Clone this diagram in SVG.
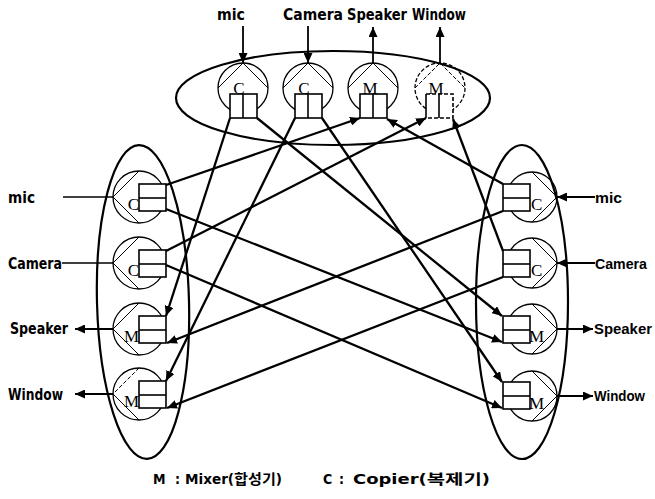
<svg xmlns="http://www.w3.org/2000/svg" width="655" height="499" viewBox="0 0 655 499">
<style>
.bg{fill:#fff}
.site{fill:none;stroke:#000;stroke-width:2.2}
.circ{fill:none;stroke:#000;stroke-width:1.3}
.chord{fill:none;stroke:#000;stroke-width:1}
.box{fill:#fff;stroke:#000;stroke-width:1.6}
.dash{stroke-dasharray:4 2}
.conn{fill:none;stroke:#000;stroke-width:2.3;marker-end:url(#ah)}
.term{fill:none;stroke:#000;stroke-width:1.4}
.terma{fill:none;stroke:#000;stroke-width:1.8;marker-end:url(#ah)}
.lbl{font-family:"DejaVu Sans Condensed","DejaVu Sans","Liberation Sans",sans-serif;font-weight:bold;font-size:16px;fill:#000}
.lblr{font-family:"Liberation Sans",Arial,sans-serif;font-weight:bold;font-size:15px;fill:#000}
.let{font-family:"Liberation Serif",serif;font-size:17px;fill:#000}
.leg{font-family:"DejaVu Sans Condensed","DejaVu Sans","Noto Sans CJK KR",sans-serif;font-weight:bold;font-size:14px;fill:#000}
</style>
<defs>
<marker id="ah" markerUnits="userSpaceOnUse" markerWidth="11" markerHeight="9" refX="10" refY="4.5" orient="auto">
<path d="M0,0 L10,4.5 L0,9 z" fill="#000"/>
</marker>
</defs>
<rect class="bg" x="0" y="0" width="655" height="499"/>

<g id="sites">
<ellipse class="site" cx="333" cy="98" rx="157" ry="47"/>
<ellipse class="site" cx="143" cy="302" rx="46" ry="157" transform="rotate(-1.5 143 302)"/>
<ellipse class="site" cx="522" cy="302" rx="46" ry="157"/>
</g>

<g id="top-mic-copier">
<circle class="circ" cx="243" cy="88" r="25"/>
<path class="chord" d="M218,88 L243,63 L268,88"/>
<text class="let" x="239" y="94" text-anchor="middle">C</text>
<rect class="box" x="230" y="94" width="27" height="24"/>
<line class="chord" x1="243" y1="94" x2="243" y2="118" style="stroke-width:1.6"/>
</g>
<g id="top-camera-copier">
<circle class="circ" cx="308" cy="88" r="25"/>
<path class="chord" d="M283,88 L308,63 L333,88"/>
<text class="let" x="304" y="94" text-anchor="middle">C</text>
<rect class="box" x="295" y="94" width="27" height="24"/>
<line class="chord" x1="308" y1="94" x2="308" y2="118" style="stroke-width:1.6"/>
</g>
<g id="top-speaker-mixer">
<circle class="circ" cx="373" cy="88" r="25"/>
<path class="chord" d="M348,88 L373,63 L398,88"/>
<text class="let" x="370" y="94" text-anchor="middle">M</text>
<rect class="box" x="360" y="94" width="27" height="24"/>
<line class="chord" x1="373" y1="94" x2="373" y2="118" style="stroke-width:1.6"/>
</g>
<g id="top-window-mixer">
<circle class="circ dash" cx="440" cy="88" r="25"/>
<path class="chord dash" d="M415,88 L440,63 L465,88"/>
<text class="let" x="436" y="94" text-anchor="middle">M</text>
<rect x="426" y="94" width="27" height="24" fill="#fff"/>
<path class="box" d="M426,94 L426,118" style="fill:none"/>
<path class="box dash" d="M426,94 L453,94 L453,118 L426,118" style="fill:none"/>
<line class="chord" x1="439" y1="94" x2="439" y2="118" style="stroke-width:1.6"/>
</g>

<g id="left-mic-copier">
<circle class="circ" cx="139" cy="197" r="26"/>
<path class="chord" d="M139,171 L113,197 L139,223"/>
<text class="let" x="139" y="210" text-anchor="end">C</text>
<rect class="box" x="139" y="184" width="27" height="27"/>
<line class="chord" x1="139" y1="198" x2="166" y2="198" style="stroke-width:1.6"/>
</g>
<g id="left-camera-copier">
<circle class="circ" cx="139" cy="263" r="26"/>
<path class="chord" d="M139,237 L113,263 L139,289"/>
<text class="let" x="139" y="276" text-anchor="end">C</text>
<rect class="box" x="139" y="250" width="27" height="27"/>
<line class="chord" x1="139" y1="264" x2="166" y2="264" style="stroke-width:1.6"/>
</g>
<g id="left-speaker-mixer">
<circle class="circ" cx="139" cy="329" r="26"/>
<path class="chord" d="M139,303 L113,329 L139,355"/>
<text class="let" x="139" y="342" text-anchor="end">M</text>
<rect class="box" x="139" y="316" width="27" height="27"/>
<line class="chord" x1="139" y1="330" x2="166" y2="330" style="stroke-width:1.6"/>
</g>
<g id="left-window-mixer">
<circle class="circ" cx="139" cy="394" r="26"/>
<path class="chord dash" d="M139,368 L113,394"/>
<path class="chord" d="M113,394 L139,420"/>
<text class="let" x="139" y="407" text-anchor="end">M</text>
<rect class="box" x="139" y="381" width="27" height="27"/>
<line class="chord" x1="139" y1="395" x2="166" y2="395" style="stroke-width:1.6"/>
</g>

<g id="right-mic-copier">
<circle class="circ" cx="532" cy="197" r="25"/>
<path class="chord" d="M532,172 L557,197 L532,222"/>
<text class="let" x="531" y="210">C</text>
<rect class="box" x="503" y="184" width="27" height="27"/>
<line class="chord" x1="503" y1="198" x2="530" y2="198" style="stroke-width:1.6"/>
</g>
<g id="right-camera-copier">
<circle class="circ" cx="532" cy="263" r="25"/>
<path class="chord" d="M532,238 L557,263 L532,288"/>
<text class="let" x="531" y="276">C</text>
<rect class="box" x="503" y="250" width="27" height="27"/>
<line class="chord" x1="503" y1="264" x2="530" y2="264" style="stroke-width:1.6"/>
</g>
<g id="right-speaker-mixer">
<circle class="circ" cx="532" cy="329" r="25"/>
<path class="chord" d="M532,304 L557,329 L532,354"/>
<text class="let" x="529" y="342">M</text>
<rect class="box" x="503" y="316" width="27" height="27"/>
<line class="chord" x1="503" y1="330" x2="530" y2="330" style="stroke-width:1.6"/>
</g>
<g id="right-window-mixer">
<circle class="circ" cx="532" cy="396" r="25"/>
<path class="chord" d="M532,371 L557,396 L532,421"/>
<text class="let" x="529" y="409">M</text>
<rect class="box" x="503" y="382" width="27" height="27"/>
<line class="chord" x1="503" y1="396" x2="530" y2="396" style="stroke-width:1.6"/>
</g>

<g id="connectors">
<line class="conn" x1="230" y1="118" x2="166" y2="316"/>
<line class="conn" x1="257" y1="118" x2="502" y2="316"/>
<line class="conn" x1="295" y1="118" x2="166" y2="381"/>
<line class="conn" x1="322" y1="118" x2="502" y2="382"/>
<line class="conn" x1="166" y1="185" x2="360" y2="118"/>
<line class="conn" x1="166" y1="209" x2="502" y2="342"/>
<line class="conn" x1="166" y1="251" x2="426" y2="118"/>
<line class="conn" x1="166" y1="265" x2="502" y2="408"/>
<line class="conn" x1="503" y1="184" x2="387" y2="119"/>
<line class="conn" x1="503" y1="211" x2="167" y2="343"/>
<line class="conn" x1="503" y1="251" x2="453" y2="119"/>
<line class="conn" x1="503" y1="277" x2="167" y2="408"/>

<line class="terma" x1="243" y1="26" x2="243" y2="63"/>
<line class="terma" x1="308" y1="26" x2="308" y2="63"/>
<line class="terma" x1="373" y1="63" x2="373" y2="27"/>
<line class="terma" x1="440" y1="63" x2="440" y2="27"/>

<line class="term" x1="63" y1="197" x2="113" y2="197"/>
<line class="term" x1="62" y1="263" x2="113" y2="263"/>
<line class="terma" x1="113" y1="329" x2="75" y2="329"/>
<line class="terma" x1="113" y1="394" x2="75" y2="394"/>

<line class="terma" x1="595" y1="197" x2="557" y2="197"/>
<line class="terma" x1="595" y1="263" x2="557" y2="263"/>
<line class="terma" x1="557" y1="329" x2="593" y2="329"/>
<line class="terma" x1="557" y1="396" x2="593" y2="396"/>
</g>

<g id="labels">
<text class="lbl" x="217" y="20" textLength="28" lengthAdjust="spacingAndGlyphs">mic</text>
<text class="lbl" x="283" y="20" textLength="60" lengthAdjust="spacingAndGlyphs">Camera</text>
<text class="lbl" x="347" y="20" textLength="60" lengthAdjust="spacingAndGlyphs">Speaker</text>
<text class="lbl" x="412" y="20" textLength="54" lengthAdjust="spacingAndGlyphs">Window</text>

<text class="lbl" x="8" y="203" textLength="27" lengthAdjust="spacingAndGlyphs">mic</text>
<text class="lbl" x="8" y="269" textLength="54" lengthAdjust="spacingAndGlyphs">Camera</text>
<text class="lbl" x="10" y="334" textLength="58" lengthAdjust="spacingAndGlyphs">Speaker</text>
<text class="lbl" x="8" y="400" textLength="55" lengthAdjust="spacingAndGlyphs">Window</text>

<text class="lblr" x="595" y="203" textLength="27" lengthAdjust="spacingAndGlyphs">mic</text>
<text class="lblr" x="595" y="269" textLength="52" lengthAdjust="spacingAndGlyphs">Camera</text>
<text class="lblr" x="594" y="334" textLength="58" lengthAdjust="spacingAndGlyphs">Speaker</text>
<text class="lblr" x="594" y="401" textLength="51" lengthAdjust="spacingAndGlyphs">Window</text>
</g>

<g id="legend">
<text class="leg" x="153" y="484">M</text>
<text class="leg" x="175" y="484">:</text>
<text class="leg" x="185" y="484" textLength="97" lengthAdjust="spacingAndGlyphs">Mixer(합성기)</text>
<text class="leg" x="323" y="484">C</text>
<text class="leg" x="339" y="484">:</text>
<text class="leg" x="353" y="484" textLength="137" lengthAdjust="spacingAndGlyphs">Copier(복제기)</text>
</g>
</svg>
